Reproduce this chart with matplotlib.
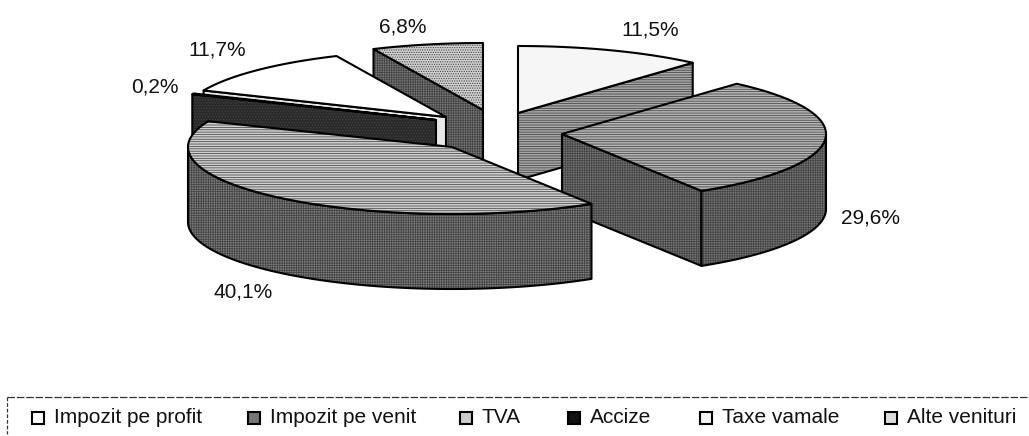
import numpy as np
import matplotlib
matplotlib.use("Agg")
import matplotlib.pyplot as plt
from matplotlib.patches import Polygon, Rectangle

# ---- data ----
categories = ["Impozit pe profit", "Impozit pe venit", "TVA", "Accize", "Taxe vamale", "Alte venituri"]
values = [11.5, 29.6, 40.1, 0.2, 11.7, 6.8]
labels = ["11,5%", "29,6%", "40,1%", "0,2%", "11,7%", "6,8%"]

# ---- layout (pixels) and styles ----
W, H = 1029, 436
RX, RY = 264, 67
depth = [67, 75, 75, 75, 75, 75]
apex = [(518, 113), (562, 134), (452, 147), (436, 120), (446, 117), (483, 110)]
draw_order = [5, 0, 4, 3, 1, 2]
top_fc = ["#f6f6f6", "#b4b4b4", "#d0d0d0", "#1c1c1c", "#ffffff", "#cfcfcf"]
top_hatch = ["", "-------", "-------", "", "", "......."]
side_fc = ["#a6a6a6", "#767676", "#7e7e7e", "#2a2a2a", "#e8e8e8", "#787878"]
side_hatch = ["-------", "+++++++", "+++++++", "......", "", "+++++++"]
label_pos = [(650, 30), (870, 218), (243, 292), (155, 87), (217, 50), (403, 27)]
legend_swatch_x = [32, 248, 460, 568, 700, 885]
legend_text_x = [54, 270, 482, 590, 722, 907]
legend_fc = ["#ffffff", "#777777", "#cccccc", "#111111", "#f6f6f6", "#dddddd"]

plt.rcParams["font.family"] = ["Liberation Sans", "DejaVu Sans"]
plt.rcParams["hatch.linewidth"] = 0.55

fig = plt.figure(figsize=(W / 100, H / 100), dpi=100)
ax = fig.add_axes([0, 0, 1, 1])
ax.set_xlim(0, W)
ax.set_ylim(H, 0)
ax.axis("off")


def pt(c, th):
    return np.array([c[0] + RX * np.sin(th), c[1] - RY * np.cos(th)])


def face(points, fc, hatch, z):
    points = np.asarray(points)
    ax.add_patch(Polygon(points, closed=True, fc=fc, ec="#444444" if fc != "#ffffff" else "none",
                         hatch=hatch or None, lw=0, zorder=z))
    ax.add_patch(Polygon(points, closed=True, fc="none", ec="black", lw=1.5, joinstyle="round", zorder=z + 0.1))


edges = np.radians(np.concatenate([[0], np.cumsum(values) / np.sum(values) * 360]))

z = 1
for i in draw_order:
    a, b = edges[i], edges[i + 1]
    c = apex[i]
    down = np.array([0, depth[i]])
    # cut faces that look towards the viewer
    if np.sin(a) < 0:
        p = pt(c, a)
        face([c, p, p + down, np.array(c) + down], side_fc[i], side_hatch[i], z)
        z += 1
    if np.sin(b) > 0:
        p = pt(c, b)
        face([c, p, p + down, np.array(c) + down], side_fc[i], side_hatch[i], z)
        z += 1
    # outer rim
    lo, hi = max(a, np.pi / 2), min(b, 3 * np.pi / 2)
    if hi > lo:
        t = np.linspace(lo, hi, 120)
        upper = np.array([pt(c, x) for x in t])
        face(np.vstack([upper, upper[::-1] + down]), side_fc[i], side_hatch[i], z)
        z += 1
    # top face
    t = np.linspace(a, b, max(int((b - a) * 80), 4))
    arc = np.array([pt(c, x) for x in t])
    face(np.vstack([[c], arc]), top_fc[i], top_hatch[i], z)
    z += 1

for lab, (x, y) in zip(labels, label_pos):
    ax.text(x, y, lab, fontsize=15, ha="center", va="center", color="#111111", zorder=100)

# legend
ax.plot([7, W], [397, 397], color="#333333", lw=0.9, ls=(0, (6, 1.5)), zorder=100)
ax.plot([7, 7], [397, 434], color="#333333", lw=0.9, ls=(0, (3, 1.5)), zorder=100)
for name, sx, tx, fc in zip(categories, legend_swatch_x, legend_text_x, legend_fc):
    ax.add_patch(Rectangle((sx, 412), 12, 12, fc=fc, ec="black", lw=1.5, zorder=100))
    ax.text(tx, 417, name, fontsize=15, ha="left", va="center", color="#111111", zorder=100)

fig.savefig("out.png", dpi=100)
